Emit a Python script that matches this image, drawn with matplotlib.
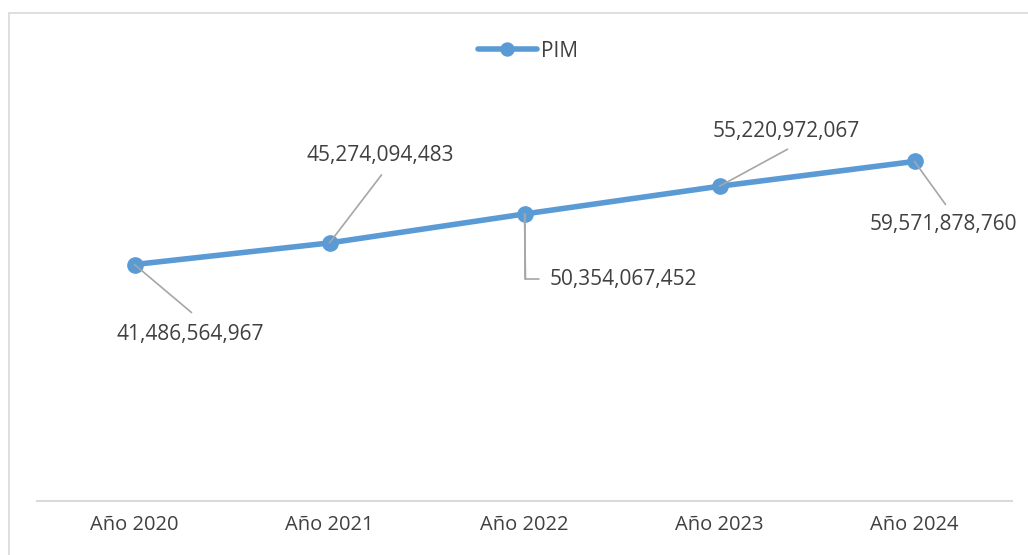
import matplotlib
matplotlib.use('Agg')
import matplotlib.pyplot as plt
from matplotlib.patches import Rectangle

plt.rcParams['font.family'] = ['Open Sans', 'DejaVu Sans']

# data
years = ['Año 2020', 'Año 2021', 'Año 2022', 'Año 2023', 'Año 2024']
pim = [41486564967, 45274094483, 50354067452, 55220972067, 59571878760]

# label placement (pixels from the marker): leader end, text centre
leader_end = [(57, -48), (52, 68), None, (68, 37), (31, -43)]
label_pos = [(56, -70), (51, 87), (99, -66), (67, 55), (29, -63)]

blue = '#5B9BD5'
txt = '#404040'
lead = '#A6A6A6'

W, H = 1028, 555
fig = plt.figure(figsize=(W / 100, H / 100), dpi=100)
ax = fig.add_axes([37 / W, 54 / H, 975 / W, (501 - 102) / H])

# chart border (only left/top visible in the crop)
fig.patches.append(Rectangle((9 / W, -0.1), 1.2, 1.1 - 13 / H, transform=fig.transFigure,
                             fill=False, edgecolor='#D9D9D9', lw=1.2))

x = list(range(len(years)))
ax.plot(x, pim, color=blue, lw=4, marker='o', markersize=11, label='PIM',
        solid_capstyle='round', zorder=3)

for i, v in enumerate(pim):
    if leader_end[i] is not None:
        ax.annotate('', xy=(i, v), xytext=leader_end[i], textcoords='offset pixels',
                    arrowprops=dict(arrowstyle='-', color=lead, lw=1.2, shrinkA=0, shrinkB=0),
                    zorder=4)
    else:
        # elbow leader
        ax.annotate('', xy=(i, v), xytext=(1, -65), textcoords='offset pixels',
                    arrowprops=dict(arrowstyle='-', color=lead, lw=1.2, shrinkA=0, shrinkB=0),
                    zorder=4)
        ax.annotate('', xy=(i, v), xytext=(14, -65), textcoords='offset pixels',
                    arrowprops=dict(arrowstyle='-', color=lead, lw=1.2, shrinkA=0, shrinkB=0,
                                    connectionstyle='angle,angleA=0,angleB=90,rad=0'),
                    zorder=4)
    ax.annotate(f'{v:,}', xy=(i, v), xytext=label_pos[i], textcoords='offset pixels',
                ha='center', va='center', fontsize=15, color=txt)

ax.set_xlim(-0.5, len(years) - 0.5)
ax.set_ylim(0, 70e9)
ax.set_xticks(x)
ax.set_xticklabels(years, fontsize=14.5, color=txt)
ax.tick_params(axis='x', length=0, pad=10)
ax.set_yticks([])
for s in ['left', 'right', 'top']:
    ax.spines[s].set_visible(False)
ax.spines['bottom'].set_color('#D9D9D9')
ax.spines['bottom'].set_linewidth(1.5)

leg = ax.legend(loc='center', bbox_to_anchor=(528 / W, 1 - 51 / H), bbox_transform=fig.transFigure,
                frameon=False, fontsize=15, handlelength=2.8, handletextpad=0.2, markerscale=0.85)
for t in leg.get_texts():
    t.set_color(txt)

fig.savefig('out.png', dpi=100)
